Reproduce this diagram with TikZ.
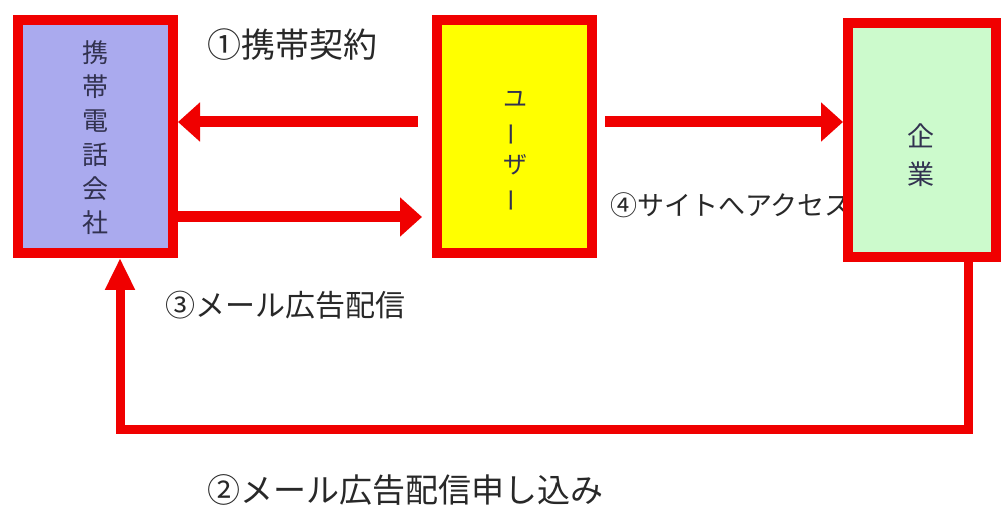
\documentclass[tikz,border=0pt]{standalone}
\usepackage{fontspec}
\usepackage{graphicx}
\setmainfont{Noto Sans CJK JP}
\usetikzlibrary{arrows.meta}
\definecolor{myred}{RGB}{240,0,0}
\definecolor{lav}{RGB}{170,170,238}
\definecolor{ylw}{RGB}{255,255,0}
\definecolor{lgreen}{RGB}{204,250,204}
\definecolor{txt}{RGB}{40,40,40}
\definecolor{boxtxt}{RGB}{50,50,80}
\newcommand{\vbar}{\rotatebox[origin=c]{90}{ー}}
\begin{document}
\begin{tikzpicture}[x=1pt,y=1pt,
  box/.style={draw=myred, line width=10pt, minimum width=155pt, minimum height=233pt, inner sep=0pt},
  arr/.style={draw=myred, line width=11pt, -{Triangle[length=22pt,width=38pt]}},
  arrb/.style={draw=myred, line width=9pt, line join=miter, -{Triangle[length=32pt,width=28pt]}},
  lab/.style={text=txt, inner sep=0pt},
  vtxt/.style={text=boxtxt, align=center, inner sep=0pt}]
\fill[white] (0,0) rectangle (1002,509);
\useasboundingbox (0,0) rectangle (1002,509);

\node[box, fill=lav] (left) at (95.5,372.5) {};
\node[box, fill=ylw] (user) at (514.5,372.5) {};

\node[lab, anchor=west, font=\fontsize{27}{27}\selectfont] (l4) at (610,304) {④サイトへアクセス};

\node[box, fill=lgreen, minimum width=148pt, minimum height=234pt] (comp) at (922,369) {};

\node[vtxt, font=\fontsize{26}{34}\selectfont] (tleft) at (95,371) {携\\帯\\電\\話\\会\\社};
\node[vtxt, font=\fontsize{24}{33}\selectfont] (tuser) at (515,357) {ユ\\\vbar\\ザ\\\vbar};
\node[vtxt, font=\fontsize{27}{38}\selectfont] (tcomp) at (921,354) {企\\業};

\node[lab, font=\fontsize{34}{34}\selectfont] (l1) at (292,464) {①携帯契約};
\node[lab, font=\fontsize{30}{30}\selectfont] (l3) at (285,204) {③メール広告配信};
\node[lab, font=\fontsize{33}{33}\selectfont] (l2) at (405,19) {②メール広告配信申し込み};

\draw[arr] ([shift={(-14pt,14.5pt)}]user.west) -- ([yshift=14.5pt]left.east);
\draw[arr] ([yshift=-80.5pt]left.east) -- ([shift={(-10pt,-80.5pt)}]user.west);
\draw[arr] ([shift={(8pt,18pt)}]user.east |- comp.west) -- ([yshift=18pt]comp.west);
\coordinate (c1) at (120,79);
\draw[arrb] ([xshift=46pt]comp.south) |- (c1) -- ([xshift=24.5pt]left.south);
\end{tikzpicture}
\end{document}
